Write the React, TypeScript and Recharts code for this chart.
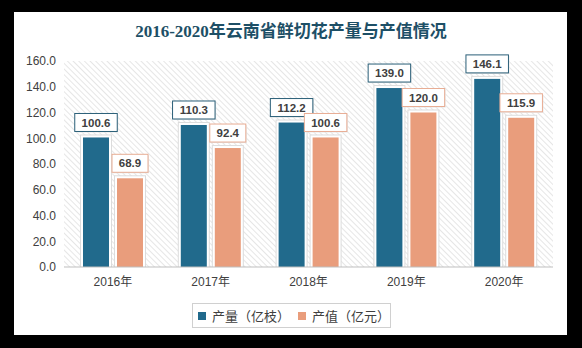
import React from "react";
import { BarChart, Bar, XAxis, YAxis, CartesianGrid, LabelList } from "recharts";

const years = ["2016年", "2017年", "2018年", "2019年", "2020年"];
const outputValues = [100.6, 110.3, 112.2, 139.0, 146.1];
const valueValues = [68.9, 92.4, 100.6, 120.0, 115.9];
const yTicks = [0, 20, 40, 60, 80, 100, 120, 140, 160];
const seriesNames = ["产量（亿枝）", "产值（亿元）"];

const BLUE = "#216a8c";
const ORANGE = "#e99d7c";
const BLUE_EDGE = "#2a5f78";
const ORANGE_EDGE = "#e8ad94";

const data = years.map((year, i) => ({
  year,
  output: outputValues[i],
  value: valueValues[i],
}));

const FONT = '"Liberation Sans", "Noto Sans CJK SC", sans-serif';

const makeBarShape = (color: string) => (props: any) => {
  const { x, y, width, height } = props;
  if (height <= 0) return null;
  return (
    <g>
      <rect x={x - 3} y={y - 3} width={width + 6} height={height + 3} fill="#dcdcdc" />
      <rect x={x - 2} y={y - 2} width={width + 4} height={height + 2} fill="#ffffff" />
      <rect x={x} y={y} width={width} height={height} fill={color} />
    </g>
  );
};

const makeLabel = (edge: string) => (props: any) => {
  const { x, y, width, value } = props;
  const text = Number(value).toFixed(1);
  const boxW = text.length * 6.5 + 10;
  const boxH = 18;
  const cx = x + width / 2;
  const bottom = y - 6;
  return (
    <g>
      <rect x={cx - boxW / 2 + 1} y={bottom - boxH + 1} width={boxW} height={boxH} fill="#e6e6e6" />
      <rect x={cx - boxW / 2} y={bottom - boxH} width={boxW} height={boxH} fill="#ffffff" stroke={edge} strokeWidth={1} />
      <text x={cx} y={bottom - boxH / 2} dy="0.36em" textAnchor="middle" fontSize={11.5} fontWeight="bold" fill="#404040" fontFamily={FONT}>
        {text}
      </text>
    </g>
  );
};

export default function App() {
  return (
    <div style={{ position: "absolute", left: 0, top: 0, width: 582, height: 348, background: "#000" }}>
      <svg width={0} height={0} style={{ position: "absolute" }}>
        <defs>
          {/* diagonal hatching running from upper left to lower right */}
          <pattern id="hatch" width={4} height={4} patternUnits="userSpaceOnUse" patternTransform="rotate(-45)">
            <rect width={4} height={4} fill="#ffffff" />
            <line x1={0} y1={0} x2={0} y2={4} stroke="#d6d6d6" strokeWidth={1.2} />
          </pattern>
        </defs>
      </svg>
      <div style={{ position: "absolute", left: 14, top: 12, width: 553, height: 323, background: "#fff" }} />
      <div
        style={{
          position: "absolute",
          left: 0,
          top: 21,
          width: 582,
          textAlign: "center",
          fontFamily: '"Liberation Serif", "Noto Sans CJK SC", serif',
          fontWeight: "bold",
          fontSize: 17,
          color: "#1d4f66",
          lineHeight: "21px",
        }}
      >
        2016-2020年云南省鲜切花产量与产值情况
      </div>
      <div style={{ position: "absolute", left: 0, top: 0 }}>
        <BarChart
          width={582}
          height={348}
          data={data}
          margin={{ top: 61, right: 29, bottom: 51, left: 14 }}
          barSize={26}
          barGap={8}
        >
          <CartesianGrid horizontal={false} vertical={false} fill="url(#hatch)" />
          <XAxis
            dataKey="year"
            axisLine={{ stroke: "#bfbfbf" }}
            tickLine={false}
            tickMargin={4}
            height={30}
            tick={{ fontSize: 12, fill: "#404040", fontFamily: FONT }}
          />
          <YAxis
            domain={[0, 160]}
            ticks={yTicks}
            width={50}
            axisLine={false}
            tickLine={false}
            tickFormatter={(v: number) => v.toFixed(1)}
            tick={{ fontSize: 12, fill: "#404040", fontFamily: FONT }}
          />
          <Bar dataKey="output" fill={BLUE} shape={makeBarShape(BLUE)} isAnimationActive={false}>
            <LabelList dataKey="output" content={makeLabel(BLUE_EDGE)} />
          </Bar>
          <Bar dataKey="value" fill={ORANGE} shape={makeBarShape(ORANGE)} isAnimationActive={false}>
            <LabelList dataKey="value" content={makeLabel(ORANGE_EDGE)} />
          </Bar>
        </BarChart>
      </div>
      <div
        style={{
          position: "absolute",
          left: 192,
          top: 303,
          width: 197,
          height: 23,
          border: "1px solid #d0d0d0",
          background: "#fff",
          display: "flex",
          alignItems: "center",
          fontFamily: FONT,
          fontSize: 13,
          color: "#404040",
        }}
      >
        {seriesNames.map((name, i) => (
          <div key={name} style={{ display: "flex", alignItems: "center", marginLeft: i === 0 ? 5 : 8 }}>
            <span style={{ display: "inline-block", width: 8, height: 8, background: i === 0 ? BLUE : ORANGE, marginRight: 6 }} />
            <span>{name}</span>
          </div>
        ))}
      </div>
    </div>
  );
}
